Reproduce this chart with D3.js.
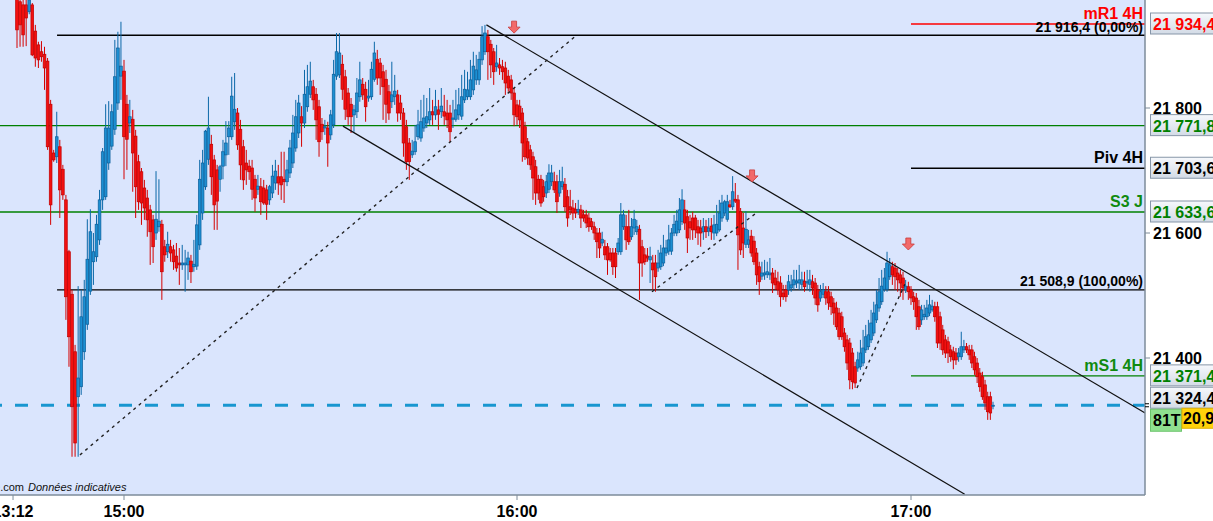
<!DOCTYPE html>
<html><head><meta charset="utf-8">
<script src="https://cdn.jsdelivr.net/npm/d3@7"></script>
<style>body{margin:0;background:#fff;}svg{display:block;font-family:"Liberation Sans",Arial,sans-serif;}</style>
</head><body><svg id="c" width="1213" height="521"></svg>
<script>
// ---------- DATA (81-tick candles) ----------
const open = [21976,21970,21965,21965,21954,21965,21923,21901,21890,21886,21875,21806,21728,21722,21738,21702,21653,21570,21502,21410,
21338,21354,21410,21454,21507,21554,21562,21589,21653,21658,21712,21739,21766,21808,21851,21859,21806,21776,21782,21755,
21714,21698,21672,21656,21637,21621,21600,21610,21614,21578,21570,21578,21573,21563,21552,21549,21549,21549,21555,21546,
21547,21581,21632,21674,21718,21742,21717,21701,21686,21707,21725,21754,21754,21778,21792,21766,21738,21712,21707,21704,
21686,21670,21674,21672,21669,21653,21664,21680,21690,21690,21686,21682,21696,21712,21736,21760,21786,21776,21802,21822,
21834,21822,21802,21774,21768,21768,21757,21773,21851,21853,21870,21850,21824,21806,21789,21794,21818,21838,21830,21816,
21818,21846,21878,21872,21858,21846,21826,21810,21818,21821,21808,21792,21770,21744,21725,21730,21754,21752,21768,21776,
21781,21794,21789,21797,21794,21794,21792,21792,21782,21782,21789,21787,21813,21818,21818,21829,21845,21845,21877,21890,
21914,21902,21890,21866,21869,21866,21864,21851,21845,21824,21805,21803,21792,21770,21746,21733,21722,21706,21686,21686,
21674,21664,21670,21682,21682,21682,21664,21674,21678,21658,21642,21640,21638,21634,21637,21629,21629,21624,21618,21610,
21600,21600,21584,21578,21578,21568,21568,21568,21570,21570,21610,21610,21610,21594,21608,21602,21606,21578,21565,21563,
21557,21552,21552,21544,21546,21552,21568,21571,21571,21600,21600,21605,21618,21637,21626,21618,21624,21624,21610,21608,
21602,21610,21603,21611,21600,21600,21605,21624,21632,21622,21645,21642,21654,21653,21634,21608,21582,21582,21595,21587,
21568,21546,21531,21533,21534,21533,21536,21528,21522,21520,21504,21509,21509,21512,21517,21520,21520,21518,21523,21520,
21518,21522,21520,21509,21496,21502,21506,21506,21498,21488,21480,21472,21466,21440,21429,21424,21408,21386,21384,21386,
21392,21413,21418,21429,21440,21461,21480,21490,21510,21510,21530,21546,21544,21536,21533,21528,21509,21514,21509,21498,
21496,21482,21461,21466,21466,21472,21477,21482,21482,21466,21445,21429,21426,21413,21410,21408,21402,21402,21413,21418,
21413,21413,21402,21392,21376,21370,21357,21338,21338,21323];
const high = [21986,21981,21973,21973,21981,21968,21933,21906,21907,21898,21880,21813,21733,21794,21749,21709,21661,21573,21509,21421,
21515,21509,21525,21622,21638,21600,21629,21669,21736,21806,21811,21806,21909,21922,21938,21877,21821,21813,21797,21765,
21725,21704,21685,21669,21645,21629,21699,21686,21621,21589,21602,21589,21581,21584,21576,21581,21573,21570,21565,21589,
21629,21717,21733,21765,21818,21757,21725,21709,21709,21749,21779,21779,21850,21856,21800,21781,21749,21733,21717,21717,
21693,21693,21688,21685,21677,21677,21709,21717,21709,21730,21730,21717,21749,21789,21813,21821,21803,21861,21869,21874,
21845,21832,21813,21784,21781,21778,21797,21877,21920,21920,21885,21861,21832,21816,21805,21848,21874,21848,21842,21845,
21874,21906,21893,21880,21869,21861,21837,21874,21853,21829,21821,21800,21781,21752,21749,21773,21797,21813,21821,21816,
21832,21813,21829,21813,21832,21821,21813,21805,21813,21829,21832,21853,21861,21858,21877,21890,21885,21890,21931,21933,
21925,21909,21896,21901,21880,21877,21874,21861,21853,21832,21813,21813,21800,21778,21752,21741,21730,21717,21693,21693,
21685,21693,21710,21709,21698,21693,21701,21706,21688,21669,21669,21653,21648,21653,21645,21637,21637,21632,21624,21618,
21608,21608,21602,21589,21584,21576,21576,21576,21592,21648,21637,21629,21637,21624,21637,21621,21613,21589,21576,21576,
21578,21565,21565,21573,21581,21597,21589,21613,21608,21629,21637,21656,21670,21653,21637,21629,21634,21629,21621,21621,
21624,21621,21624,21624,21629,21645,21653,21661,21653,21661,21653,21691,21680,21661,21640,21632,21635,21605,21605,21595,
21576,21554,21554,21557,21554,21560,21544,21541,21538,21531,21517,21517,21533,21533,21541,21541,21549,21538,21538,21541,
21541,21533,21528,21517,21517,21520,21515,21515,21506,21496,21490,21480,21474,21448,21437,21432,21416,21394,21410,21429,
21445,21453,21461,21477,21490,21509,21528,21541,21544,21570,21560,21554,21552,21544,21541,21538,21525,21522,21515,21506,
21504,21493,21485,21485,21493,21501,21493,21490,21490,21474,21453,21437,21434,21421,21418,21416,21416,21442,21429,21424,
21421,21421,21410,21400,21384,21378,21365,21346,21346,21330];
const low = [21896,21898,21898,21899,21950,21883,21866,21864,21874,21829,21733,21613,21714,21712,21624,21653,21461,21386,21242,21242,
21242,21341,21397,21445,21501,21517,21554,21581,21637,21653,21701,21733,21757,21797,21813,21686,21701,21760,21666,21624,
21637,21613,21621,21594,21549,21552,21589,21602,21493,21554,21560,21554,21541,21538,21517,21541,21506,21525,21520,21538,
21541,21573,21621,21669,21709,21661,21605,21605,21666,21686,21707,21725,21749,21765,21733,21685,21669,21677,21685,21653,
21634,21661,21629,21645,21621,21645,21656,21669,21661,21653,21648,21675,21688,21704,21730,21752,21738,21768,21794,21816,
21797,21749,21722,21749,21757,21706,21749,21768,21845,21848,21813,21781,21773,21760,21762,21784,21810,21813,21778,21810,
21813,21842,21837,21821,21781,21776,21781,21800,21805,21778,21781,21722,21701,21685,21720,21725,21749,21746,21762,21768,
21773,21773,21781,21765,21784,21773,21768,21746,21768,21778,21781,21781,21808,21813,21813,21821,21837,21837,21869,21885,
21845,21848,21837,21858,21853,21845,21821,21826,21813,21771,21773,21768,21714,21717,21709,21701,21653,21645,21653,21642,
21650,21656,21664,21675,21664,21632,21658,21669,21634,21610,21629,21621,21624,21629,21608,21618,21608,21602,21605,21589,
21560,21560,21579,21557,21533,21554,21533,21528,21565,21565,21605,21573,21581,21589,21597,21597,21493,21530,21549,21554,
21520,21509,21506,21538,21541,21547,21563,21565,21565,21595,21595,21600,21613,21605,21568,21589,21589,21592,21581,21578,
21589,21592,21595,21589,21589,21595,21602,21618,21627,21618,21640,21637,21648,21541,21565,21560,21576,21576,21562,21549,
21517,21501,21525,21525,21528,21525,21504,21509,21501,21482,21493,21490,21501,21506,21509,21512,21509,21509,21506,21509,
21506,21501,21485,21474,21490,21496,21485,21477,21469,21453,21445,21429,21429,21410,21381,21350,21350,21352,21378,21381,
21387,21408,21413,21424,21435,21456,21474,21485,21506,21506,21525,21517,21509,21506,21498,21493,21504,21493,21485,21477,
21445,21445,21453,21461,21461,21467,21474,21458,21416,21413,21405,21400,21392,21394,21382,21389,21394,21397,21408,21408,
21397,21384,21373,21360,21346,21333,21317,21301,21301,21318];
const close = [21925,21933,21917,21944,21973,21885,21880,21877,21882,21864,21738,21645,21717,21754,21669,21661,21498,21434,21322,21264,
21368,21466,21498,21558,21602,21570,21614,21653,21730,21768,21768,21794,21850,21896,21867,21754,21750,21786,21728,21674,
21650,21648,21640,21621,21602,21578,21622,21619,21538,21565,21582,21568,21554,21544,21549,21552,21552,21560,21538,21550,
21613,21686,21712,21763,21768,21690,21645,21651,21706,21730,21744,21768,21819,21798,21741,21709,21685,21701,21698,21670,
21656,21675,21650,21648,21646,21674,21691,21699,21680,21677,21682,21701,21736,21760,21786,21808,21776,21822,21834,21843,
21813,21781,21746,21762,21770,21744,21789,21854,21890,21888,21830,21798,21786,21786,21797,21824,21845,21821,21802,21819,
21862,21888,21848,21848,21834,21806,21792,21821,21827,21792,21792,21744,21714,21714,21731,21746,21773,21778,21784,21786,
21794,21789,21802,21790,21803,21787,21781,21762,21784,21797,21805,21818,21830,21829,21845,21867,21861,21878,21914,21920,
21890,21869,21858,21872,21864,21858,21840,21832,21824,21789,21786,21781,21744,21722,21720,21709,21688,21664,21664,21648,
21658,21682,21696,21696,21669,21650,21682,21682,21642,21624,21637,21632,21632,21638,21624,21624,21616,21610,21610,21600,
21586,21576,21590,21565,21557,21557,21546,21546,21584,21629,21629,21589,21586,21610,21622,21610,21552,21552,21554,21560,
21562,21541,21530,21552,21568,21576,21576,21589,21600,21614,21619,21637,21653,21616,21592,21608,21605,21605,21600,21600,
21610,21602,21608,21602,21613,21614,21632,21648,21650,21650,21642,21666,21651,21597,21573,21584,21606,21589,21568,21554,
21533,21522,21536,21536,21538,21536,21520,21517,21509,21498,21498,21498,21522,21517,21525,21523,21525,21525,21514,21522,
21525,21512,21496,21485,21506,21509,21496,21488,21482,21472,21450,21434,21434,21418,21392,21365,21362,21360,21397,21408,
21416,21434,21437,21456,21472,21485,21506,21515,21528,21552,21549,21533,21530,21525,21520,21512,21515,21506,21496,21490,
21466,21450,21477,21470,21480,21485,21483,21466,21424,21424,21413,21408,21408,21402,21397,21397,21408,21418,21418,21413,
21405,21392,21381,21370,21354,21338,21328,21314,21312,21324.4];

// time axis: candle index of each labelled tick
const timeTickIndex = [-1.3, 35, 170, 318];
const timeTickLabels = ["13:12", "15:00", "16:00", "17:00"];
const priceTicks = [21400, 21600, 21800];

// horizontal levels
const levelNames  = ["mR1 4H", "Fibo 0%", "R J", "Piv 4H", "S3 J", "Fibo 100%", "mS1 4H", "Dernier"];
const levelValues = [21934.4, 21916.4, 21771.8, 21703.6, 21633.6, 21508.9, 21371.4, 21324.4];
const levelStart  = [318, 13.1, null, 318, null, 13.1, 318, null]; // candle index where drawing starts
const fiboPercent = {"Fibo 0%": 0, "Fibo 100%": 100};

// drawn trend lines: [[index, price],[index, price]]
const channelLines = [[[159.5, 21933], [406.5, 21312]], [[110.2, 21771], [338.3, 21182]]];
const dottedLines  = [[[20.6, 21245], [192.5, 21917]], [[220.7, 21506], [260.5, 21634]], [[297.7, 21352], [315.7, 21518]]];
// sell signal arrows: [index, price of arrow top]
const arrows = [[169, 21939], [258.3, 21701], [317, 21592]];

const tickCountLabel = "81T";
const countdownLabel = "20,9";

// ---------- LAYOUT ----------
const W = 1213, H = 521, PR = 1145, PB = 495;
const svg = d3.select("#c");
const x = d3.scaleLinear().domain([0, 35, 170, 318, 349]).range([17, 124, 517, 911, 993]);
const y = d3.scaleLinear().domain([21180.8, 21972.8]).range([PB, 0]);
const loc = d3.formatLocale({decimal: ",", thousands: " ", grouping: [3], currency: ["", ""]});
const f1 = loc.format(",.1f"), f0 = loc.format(",d"), f2 = loc.format(".2f");

const defs = svg.append("defs");
defs.append("clipPath").attr("id", "plot").append("rect").attr("x", 0).attr("y", 0).attr("width", PR).attr("height", PB);
const g = defs.append("linearGradient").attr("id", "box").attr("x1", 0).attr("x2", 0).attr("y1", 0).attr("y2", 1);
g.append("stop").attr("offset", "0%").attr("stop-color", "#f6f8fc");
g.append("stop").attr("offset", "100%").attr("stop-color", "#d3dbe6");

svg.append("rect").attr("x", 0).attr("y", 0).attr("width", PR).attr("height", PB).attr("fill", "#dae5fd");

const plot = svg.append("g").attr("clip-path", "url(#plot)");

const style = {
  "mR1 4H": {c: "#ff0000", tc: "#ff0000", w: 1.3},
  "Fibo 0%": {c: "#000", tc: "#000", w: 1.3},
  "R J": {c: "#008000", tc: "#008000", w: 1.3},
  "Piv 4H": {c: "#000", tc: "#000", w: 1.3},
  "S3 J": {c: "#008000", tc: "#108a10", w: 1.3},
  "Fibo 100%": {c: "#000", tc: "#000", w: 1.3},
  "mS1 4H": {c: "#008000", tc: "#108a10", w: 1.3},
  "Dernier": {c: "#1896d0", tc: "#000", w: 3}
};

// horizontal lines
levelNames.forEach((n, i) => {
  const v = levelValues[i], s = style[n];
  const x0 = levelStart[i] == null ? 0 : x(levelStart[i]);
  const ln = plot.append("line").attr("x1", x0).attr("x2", PR).attr("y1", y(v)).attr("y2", y(v))
    .attr("stroke", s.c).attr("stroke-width", s.w);
  if (n === "Dernier") ln.attr("stroke-dasharray", "13,13").attr("stroke-dashoffset", 11);
});

// candles
const idx = d3.range(close.length);
const cg = plot.append("g");
cg.selectAll("line.w").data(idx).join("line")
  .attr("x1", i => x(i)).attr("x2", i => x(i))
  .attr("y1", i => y(high[i])).attr("y2", i => y(low[i]))
  .attr("stroke", i => close[i] >= open[i] ? "#0b68a8" : "#d40000").attr("stroke-width", 1);
cg.selectAll("rect.b").data(idx).join("rect")
  .attr("x", i => x(i) - 1.35).attr("width", 2.7)
  .attr("y", i => y(Math.max(open[i], close[i])))
  .attr("height", i => Math.max(1, Math.abs(y(open[i]) - y(close[i]))))
  .attr("fill", i => close[i] >= open[i] ? "#1d8fd2" : "#f21010")
  .attr("stroke", i => close[i] >= open[i] ? "#0c5f9a" : "#c00000").attr("stroke-width", 0.7);

// trend lines
channelLines.forEach(l => plot.append("line")
  .attr("x1", x(l[0][0])).attr("y1", y(l[0][1])).attr("x2", x(l[1][0])).attr("y2", y(l[1][1]))
  .attr("stroke", "#111").attr("stroke-width", 1.2));
dottedLines.forEach(l => plot.append("line")
  .attr("x1", x(l[0][0])).attr("y1", y(l[0][1])).attr("x2", x(l[1][0])).attr("y2", y(l[1][1]))
  .attr("stroke", "#222").attr("stroke-width", 1.4).attr("stroke-dasharray", "3,4"));

// arrows
arrows.forEach(a => {
  const cx = x(a[0]), t = y(a[1]);
  plot.append("path")
    .attr("d", `M${cx-2.5},${t}H${cx+2.5}V${t+6}H${cx+6}L${cx},${t+12}L${cx-6},${t+6}H${cx-2.5}Z`)
    .attr("fill", "#f26a6a").attr("stroke", "#c93a3a").attr("stroke-width", 0.8);
});

// in-plot labels
levelNames.forEach((n, i) => {
  if (n === "R J" || n === "Dernier") return;
  const v = levelValues[i], s = style[n];
  const isFib = n in fiboPercent;
  plot.append("text").attr("x", PR - 2).attr("y", y(v) - (isFib ? 3.5 : 5))
    .attr("text-anchor", "end").attr("fill", s.tc)
    .attr("font-size", isFib ? 14 : 16).attr("font-weight", "bold")
    .text(isFib ? `${f1(v)} (${f2(fiboPercent[n])}%)` : n);
});

// source note
svg.append("text").attr("x", 24).attr("y", 491).attr("text-anchor", "end").attr("font-size", 11).attr("fill", "#111").text("ProRealTime.com");
svg.append("text").attr("x", 28).attr("y", 491).attr("font-size", 11).attr("font-style", "italic").attr("fill", "#111").text("Données indicatives");

// borders
svg.append("line").attr("x1", PR).attr("x2", PR).attr("y1", 0).attr("y2", PB).attr("stroke", "#7d8b9a").attr("stroke-width", 1.5);
svg.append("line").attr("x1", 0).attr("x2", PR).attr("y1", PB).attr("y2", PB).attr("stroke", "#7d8b9a").attr("stroke-width", 1.5);

// x axis
timeTickIndex.forEach((t, i) => {
  svg.append("line").attr("x1", x(t)).attr("x2", x(t)).attr("y1", PB).attr("y2", PB + 5).attr("stroke", "#7d8b9a");
  svg.append("text").attr("x", x(t)).attr("y", 517).attr("text-anchor", "middle")
    .attr("font-size", 16).attr("font-weight", "bold").attr("fill", "#000").text(timeTickLabels[i]);
});

// y axis ticks
priceTicks.forEach(p => {
  svg.append("line").attr("x1", PR).attr("x2", PR + 5).attr("y1", y(p)).attr("y2", y(p)).attr("stroke", "#7d8b9a");
  svg.append("text").attr("x", 1153).attr("y", y(p) + 6).attr("font-size", 16).attr("font-weight", "bold").attr("fill", "#000").text(f0(p));
});

// y axis value boxes
const boxColor = {"mR1 4H": "#ff0000", "R J": "#008000", "Piv 4H": "#000", "S3 J": "#008000", "mS1 4H": "#008000", "Dernier": "#000"};
levelNames.forEach((n, i) => {
  if (!(n in boxColor)) return;
  const v = levelValues[i];
  const cy = y(v) - (n === "Dernier" ? 7 : 0);
  svg.append("rect").attr("x", 1150.5).attr("y", cy - 11).attr("width", 80).attr("height", 21)
    .attr("fill", "url(#box)").attr("stroke", "#8796a8").attr("stroke-width", 1);
  svg.append("text").attr("x", 1153).attr("y", cy + 6).attr("font-size", 16).attr("font-weight", "bold")
    .attr("fill", boxColor[n]).text(f1(v));
});
// current-price markers
const yc = y(levelValues[7]);
svg.append("line").attr("x1", PR).attr("x2", PR + 4).attr("y1", yc - 1.5).attr("y2", yc - 1.5).attr("stroke", "#000");
svg.append("line").attr("x1", PR).attr("x2", PR + 4).attr("y1", yc + 1.5).attr("y2", yc + 1.5).attr("stroke", "#000");
// tick count and countdown boxes
svg.append("rect").attr("x", 1150.5).attr("y", yc + 4).attr("width", 31).attr("height", 22).attr("fill", "#8fe08f").attr("stroke", "#6cc46c");
svg.append("text").attr("x", 1153).attr("y", yc + 21).attr("font-size", 16).attr("font-weight", "bold").attr("fill", "#000").text(tickCountLabel);
svg.append("rect").attr("x", 1182).attr("y", yc + 3).attr("width", 40).attr("height", 20).attr("fill", "#ffd20a").attr("stroke", "#e0b000");
svg.append("text").attr("x", 1183).attr("y", yc + 19).attr("font-size", 16).attr("font-weight", "bold").attr("fill", "#000").text(countdownLabel);
</script></body></html>
